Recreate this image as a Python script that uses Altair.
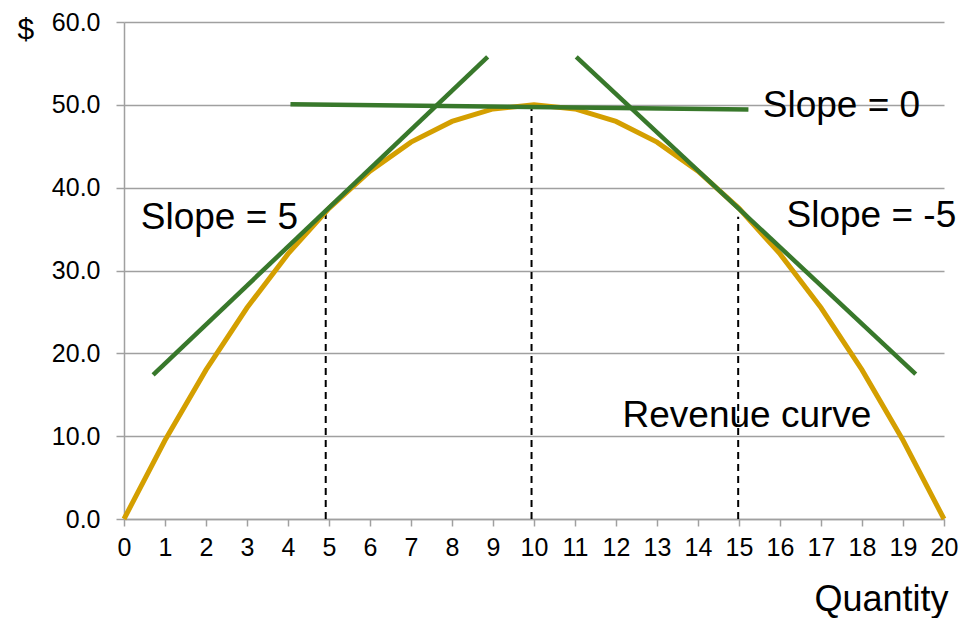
import altair as alt
import pandas as pd

# Revenue curve read at each integer quantity
quantity = list(range(0, 21))
revenue = [0, 9.5, 18, 25.5, 32, 37.5, 42, 45.5, 48, 49.5, 50,
           49.5, 48, 45.5, 42, 37.5, 32, 25.5, 18, 9.5, 0]

# Tangent line endpoints
tan_name = ["s5", "s5", "s0", "s0", "sm5", "sm5"]
tan_x = [0.71, 8.87, 4.06, 15.23, 11.03, 19.31]
tan_y = [17.4, 55.8, 50.06, 49.45, 55.8, 17.5]

# Dashed guide lines
dash_x = [4.92, 9.94, 14.98]
dash_top = [36.9, 49.5, 36.5]

# Annotation labels
label_text = ["Slope = 5", "Slope = 0", "Slope = -5", "Revenue curve"]
label_x = [0.41, 15.58, 16.16, 12.16]
label_y = [35.0, 48.5, 35.2, 11.1]

FONT = "Liberation Sans"
GOLD = "#D49F00"
GREEN = "#38782B"
GRID = "#A0A0A0"

rev_df = pd.DataFrame({"q": quantity, "r": revenue})
tan_df = pd.DataFrame({"name": tan_name, "q": tan_x, "r": tan_y})
dash_df = pd.DataFrame({"q": dash_x, "top": dash_top, "bottom": [0] * len(dash_x)})
lab_df = pd.DataFrame({"t": label_text, "q": label_x, "r": label_y})

xscale = alt.Scale(domain=[0, 20], nice=False, zero=False)
yscale = alt.Scale(domain=[0, 60], nice=False)

xaxis = alt.Axis(
    values=quantity, format="d", grid=False, domain=True, domainColor=GRID,
    domainWidth=1.5, tickColor=GRID, tickWidth=1.5, tickSize=7,
    labelFontSize=25, labelFont=FONT, labelColor="black", labelPadding=9,
    labelFlush=False, labelOverlap=False,
    title="Quantity", titleFont=FONT, titleFontSize=36, titleFontWeight="normal",
    titleColor="black", titleAnchor="end", titleAlign="right", titleX=824,
    titleY=91, titleBaseline="alphabetic",
)
yaxis = alt.Axis(
    values=[0, 10, 20, 30, 40, 50, 60], format=".1f", grid=True, gridColor=GRID,
    gridWidth=1.5, domain=True, domainColor=GRID, domainWidth=1.5,
    tickColor=GRID, tickWidth=1.5, tickSize=8,
    labelFontSize=25, labelFont=FONT, labelColor="black", labelPadding=16,
    labelFlush=False, labelOverlap=False,
    title="$", titleFont=FONT, titleFontSize=30, titleFontWeight="normal",
    titleColor="black", titleAngle=0, titleAlign="left", titleX=-107,
    titleY=16, titleBaseline="alphabetic",
)

base_x = alt.X("q:Q", scale=xscale, axis=xaxis)
base_y = alt.Y("r:Q", scale=yscale, axis=yaxis)

rev = alt.Chart(rev_df).mark_line(color=GOLD, strokeWidth=5).encode(x=base_x, y=base_y)

dash = alt.Chart(dash_df).mark_rule(color="black", strokeWidth=2, strokeDash=[7, 5]).encode(
    x=alt.X("q:Q", scale=xscale),
    y=alt.Y("bottom:Q", scale=yscale),
    y2="top:Q",
)

tan = alt.Chart(tan_df).mark_line(color=GREEN, strokeWidth=4.5).encode(
    x=alt.X("q:Q", scale=xscale),
    y=alt.Y("r:Q", scale=yscale),
    detail="name:N",
)

labels = alt.Chart(lab_df).mark_text(
    font=FONT, fontSize=37, color="black", align="left", baseline="alphabetic"
).encode(
    x=alt.X("q:Q", scale=xscale),
    y=alt.Y("r:Q", scale=yscale),
    text="t:N",
)

chart = alt.layer(dash, rev, tan, labels).properties(
    width=820, height=497,
    autosize=alt.AutoSizeParams(type="none"),
    padding={"left": 116, "top": 14, "right": 19, "bottom": 99},
    background="white",
).configure_view(stroke=None)

chart.save("out.html", embed_options={"renderer": "svg", "actions": False})
